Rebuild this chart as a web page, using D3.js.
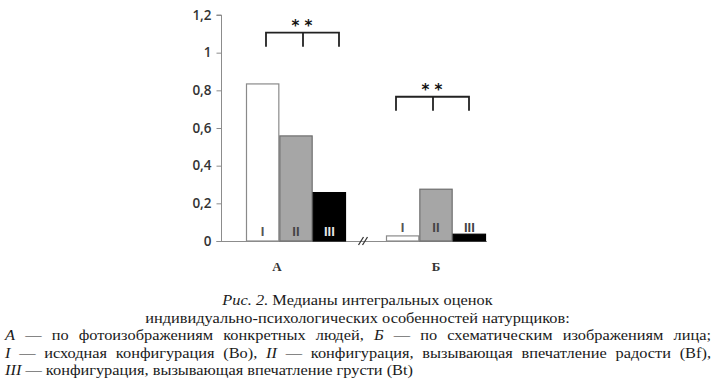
<!DOCTYPE html>
<html><head><meta charset="utf-8">
<script src="https://cdn.jsdelivr.net/npm/d3@7"></script>
<style>body{margin:0;background:#fff}svg{display:block}</style>
</head><body>
<svg id="c" width="720" height="386"></svg>
<script>
// ---- data ----
const groups = ["А", "Б"];
const configs = ["I", "II", "III"];
const valuesA = [0.834, 0.558, 0.257];
const valuesB = [0.027, 0.275, 0.036];
const yTicks = [0, 0.2, 0.4, 0.6, 0.8, 1, 1.2];
const yTickLabels = ["0", "0,2", "0,4", "0,6", "0,8", "1", "1,2"];
const significance = ["* *", "* *"];
const bracketLevels = [1.106, 0.766];
const captionLines = [
  [["Рис. 2.", true], [" Медианы интегральных оценок", false]],
  [["индивидуально-психологических особенностей натурщиков:", false]],
  [["А", true], [" — по фотоизображениям конкретных людей, ", false], ["Б", true], [" — по схематическим изображениям лица;", false]],
  [["I", true], [" — исходная конфигурация (Bo), ", false], ["II", true], [" — конфигурация, вызывающая впечатление радости (Bf),", false]],
  [["III", true], [" — конфигурация, вызывающая впечатление грусти (Bt)", false]]
];

const data = groups.map((g, i) => ({group: g, values: (i === 0 ? valuesA : valuesB).map((v, j) => ({cfg: configs[j], v}))}));

// ---- styles ----
const fills = ["#ffffff", "#a6a6a6", "#000000"];
const strokes = ["#8a8a8a", "#6e6e6e", "#000000"];
const labelColors = [["#555", "#444", "#e6e6e6"], ["#555", "#444", "#444"]];
const labelDy = [-10, -13.5];
const catLabelDx = [-19, 0];
const bracketFrac = [[0.2, 0.57, 0.93], [0.1, 0.47, 0.83]];

const svg = d3.select("#c");
const y = d3.scaleLinear().domain([0, 1.2]).range([241, 15]);
const x0 = d3.scaleBand().domain(groups).range([222, 510]).paddingInner(0.2857).paddingOuter(0.1714);
const x1 = d3.scaleBand().domain(configs).range([0, x0.bandwidth()]).padding(0);

// y axis
const yAxis = d3.axisLeft(y).tickValues(yTicks).tickFormat((d, i) => yTickLabels[i]).tickSize(5).tickPadding(5);
const ga = svg.append("g").attr("transform", "translate(221.5,0)").call(yAxis);
ga.select(".domain").attr("stroke", "#8c8c8c").attr("d", `M-5,${y(1.2)}H0V${y(0)}`);
ga.selectAll(".tick line").attr("stroke", "#8c8c8c");
ga.selectAll(".tick text").attr("font-family", "'Open Sans', 'Liberation Sans', sans-serif")
  .attr("font-size", 13.5).attr("font-weight", 600).attr("fill", "#333");

// baseline
const lastGroupEnd = x0(groups[1]) + x0.bandwidth();
svg.append("line").attr("x1", 216.5).attr("x2", lastGroupEnd + 1).attr("y1", y(0) + 0.5).attr("y2", y(0) + 0.5)
  .attr("stroke", "#8c8c8c").attr("stroke-width", 1.2);

// bars
const gg = svg.selectAll(".grp").data(data).enter().append("g").attr("transform", d => `translate(${x0(d.group)},0)`);
gg.selectAll("rect").data(d => d.values).enter().append("rect")
  .attr("x", d => x1(d.cfg) + 0.5).attr("width", x1.bandwidth() - 1)
  .attr("y", d => y(d.v)).attr("height", d => y(0) - y(d.v))
  .attr("fill", (d, j) => fills[j]).attr("stroke", (d, j) => strokes[j]).attr("stroke-width", 1.2);
gg.each(function(d, gi) {
  d3.select(this).selectAll("text.rn").data(d.values).enter().append("text")
    .attr("x", v => x1(v.cfg) + x1.bandwidth() / 2).attr("y", y(0) + labelDy[gi] + 4.5)
    .attr("text-anchor", "middle").attr("font-family", "'Liberation Sans Narrow', 'Liberation Sans', sans-serif")
    .attr("font-size", 13).attr("font-weight", 700).attr("fill", (v, j) => labelColors[gi][j])
    .text(v => v.cfg);
});

// category labels
svg.selectAll(".cat").data(groups).enter().append("text")
  .attr("x", (g, i) => x0(g) + x0.bandwidth() / 2 + catLabelDx[i]).attr("y", 271)
  .attr("text-anchor", "middle").attr("font-family", "'Liberation Serif', serif").attr("font-size", 13)
  .attr("font-weight", 700).attr("fill", "#333").text(g => g);

// axis break
const bx = (x0(groups[0]) + x0.bandwidth() + x0(groups[1])) / 2 - 3;
[-2, 2].forEach(o => svg.append("line").attr("x1", bx + o - 2.5).attr("x2", bx + o + 2.5)
  .attr("y1", y(0) + 4).attr("y2", y(0) - 4).attr("stroke", "#333").attr("stroke-width", 1.3));

// significance brackets
groups.forEach((g, i) => {
  const [fl, fm, fr] = bracketFrac[i].map(f => x0(g) + f * x0.bandwidth());
  const yt = y(bracketLevels[i]);
  const h = 14;
  svg.append("path").attr("d", `M${fl},${yt + h}V${yt}H${fr}V${yt + h}M${fm},${yt}V${yt + h}`)
    .attr("fill", "none").attr("stroke", "#222").attr("stroke-width", 1.8);
  svg.append("text").attr("x", fm - 1).attr("y", yt - 2).attr("text-anchor", "middle")
    .attr("font-family", "'DejaVu Sans', sans-serif").attr("font-size", 15).attr("font-weight", 700)
    .attr("fill", "#111").attr("xml:space", "preserve").text(significance[i]);
});

// caption
const capY = [304.5, 322.5, 340, 357.5, 375];
const justify = [false, false, true, true, false];
const center = [true, true, false, false, false];
const capFont = "'Liberation Serif', 'Times New Roman', serif";
const capSize = 14.4;
const capLeft = 5, capRight = 711, capCenter = 357.5, lastLineRight = 413;

function mkText(pieces, yy) {
  const t = svg.append("text").attr("y", yy).attr("font-family", capFont)
    .attr("font-size", capSize).attr("fill", "#1a1a1a").attr("xml:space", "preserve");
  pieces.forEach(([s, it]) => t.append("tspan").attr("font-style", it ? "italic" : "normal").text(s));
  return t;
}
// horizontal stretch factor: the original typeface is wider than Liberation Serif
const probe = mkText(captionLines[4], -100);
const k = (lastLineRight - capLeft) / probe.node().getComputedTextLength();
probe.remove();

captionLines.forEach((parts, i) => {
  if (!justify[i]) {
    const t = mkText(parts, capY[i]);
    const w = t.node().getComputedTextLength();
    t.attr("textLength", w * k).attr("lengthAdjust", "spacingAndGlyphs");
    if (center[i]) t.attr("x", capCenter).attr("text-anchor", "middle");
    else t.attr("x", capLeft);
    return;
  }
  // justified: lay out word by word
  const words = [];
  let joinNext = false;
  parts.forEach(([s, it]) => {
    const toks = s.split(" ");
    toks.forEach((w, kk) => {
      if (w === "") { if (kk === 0) joinNext = false; return; }
      if (kk === 0 && joinNext && words.length) words[words.length - 1].push([w, it]);
      else words.push([[w, it]]);
      joinNext = (kk === toks.length - 1);
    });
  });
  const nodes = words.map(wd => {
    const t = mkText(wd, capY[i]);
    const w = t.node().getComputedTextLength() * k;
    t.attr("textLength", w).attr("lengthAdjust", "spacingAndGlyphs");
    return {t, w};
  });
  const total = d3.sum(nodes, n => n.w);
  const gap = (capRight - capLeft - total) / (nodes.length - 1);
  let xx = capLeft;
  nodes.forEach(n => { n.t.attr("x", xx); xx += n.w + gap; });
});
</script>
</body></html>
